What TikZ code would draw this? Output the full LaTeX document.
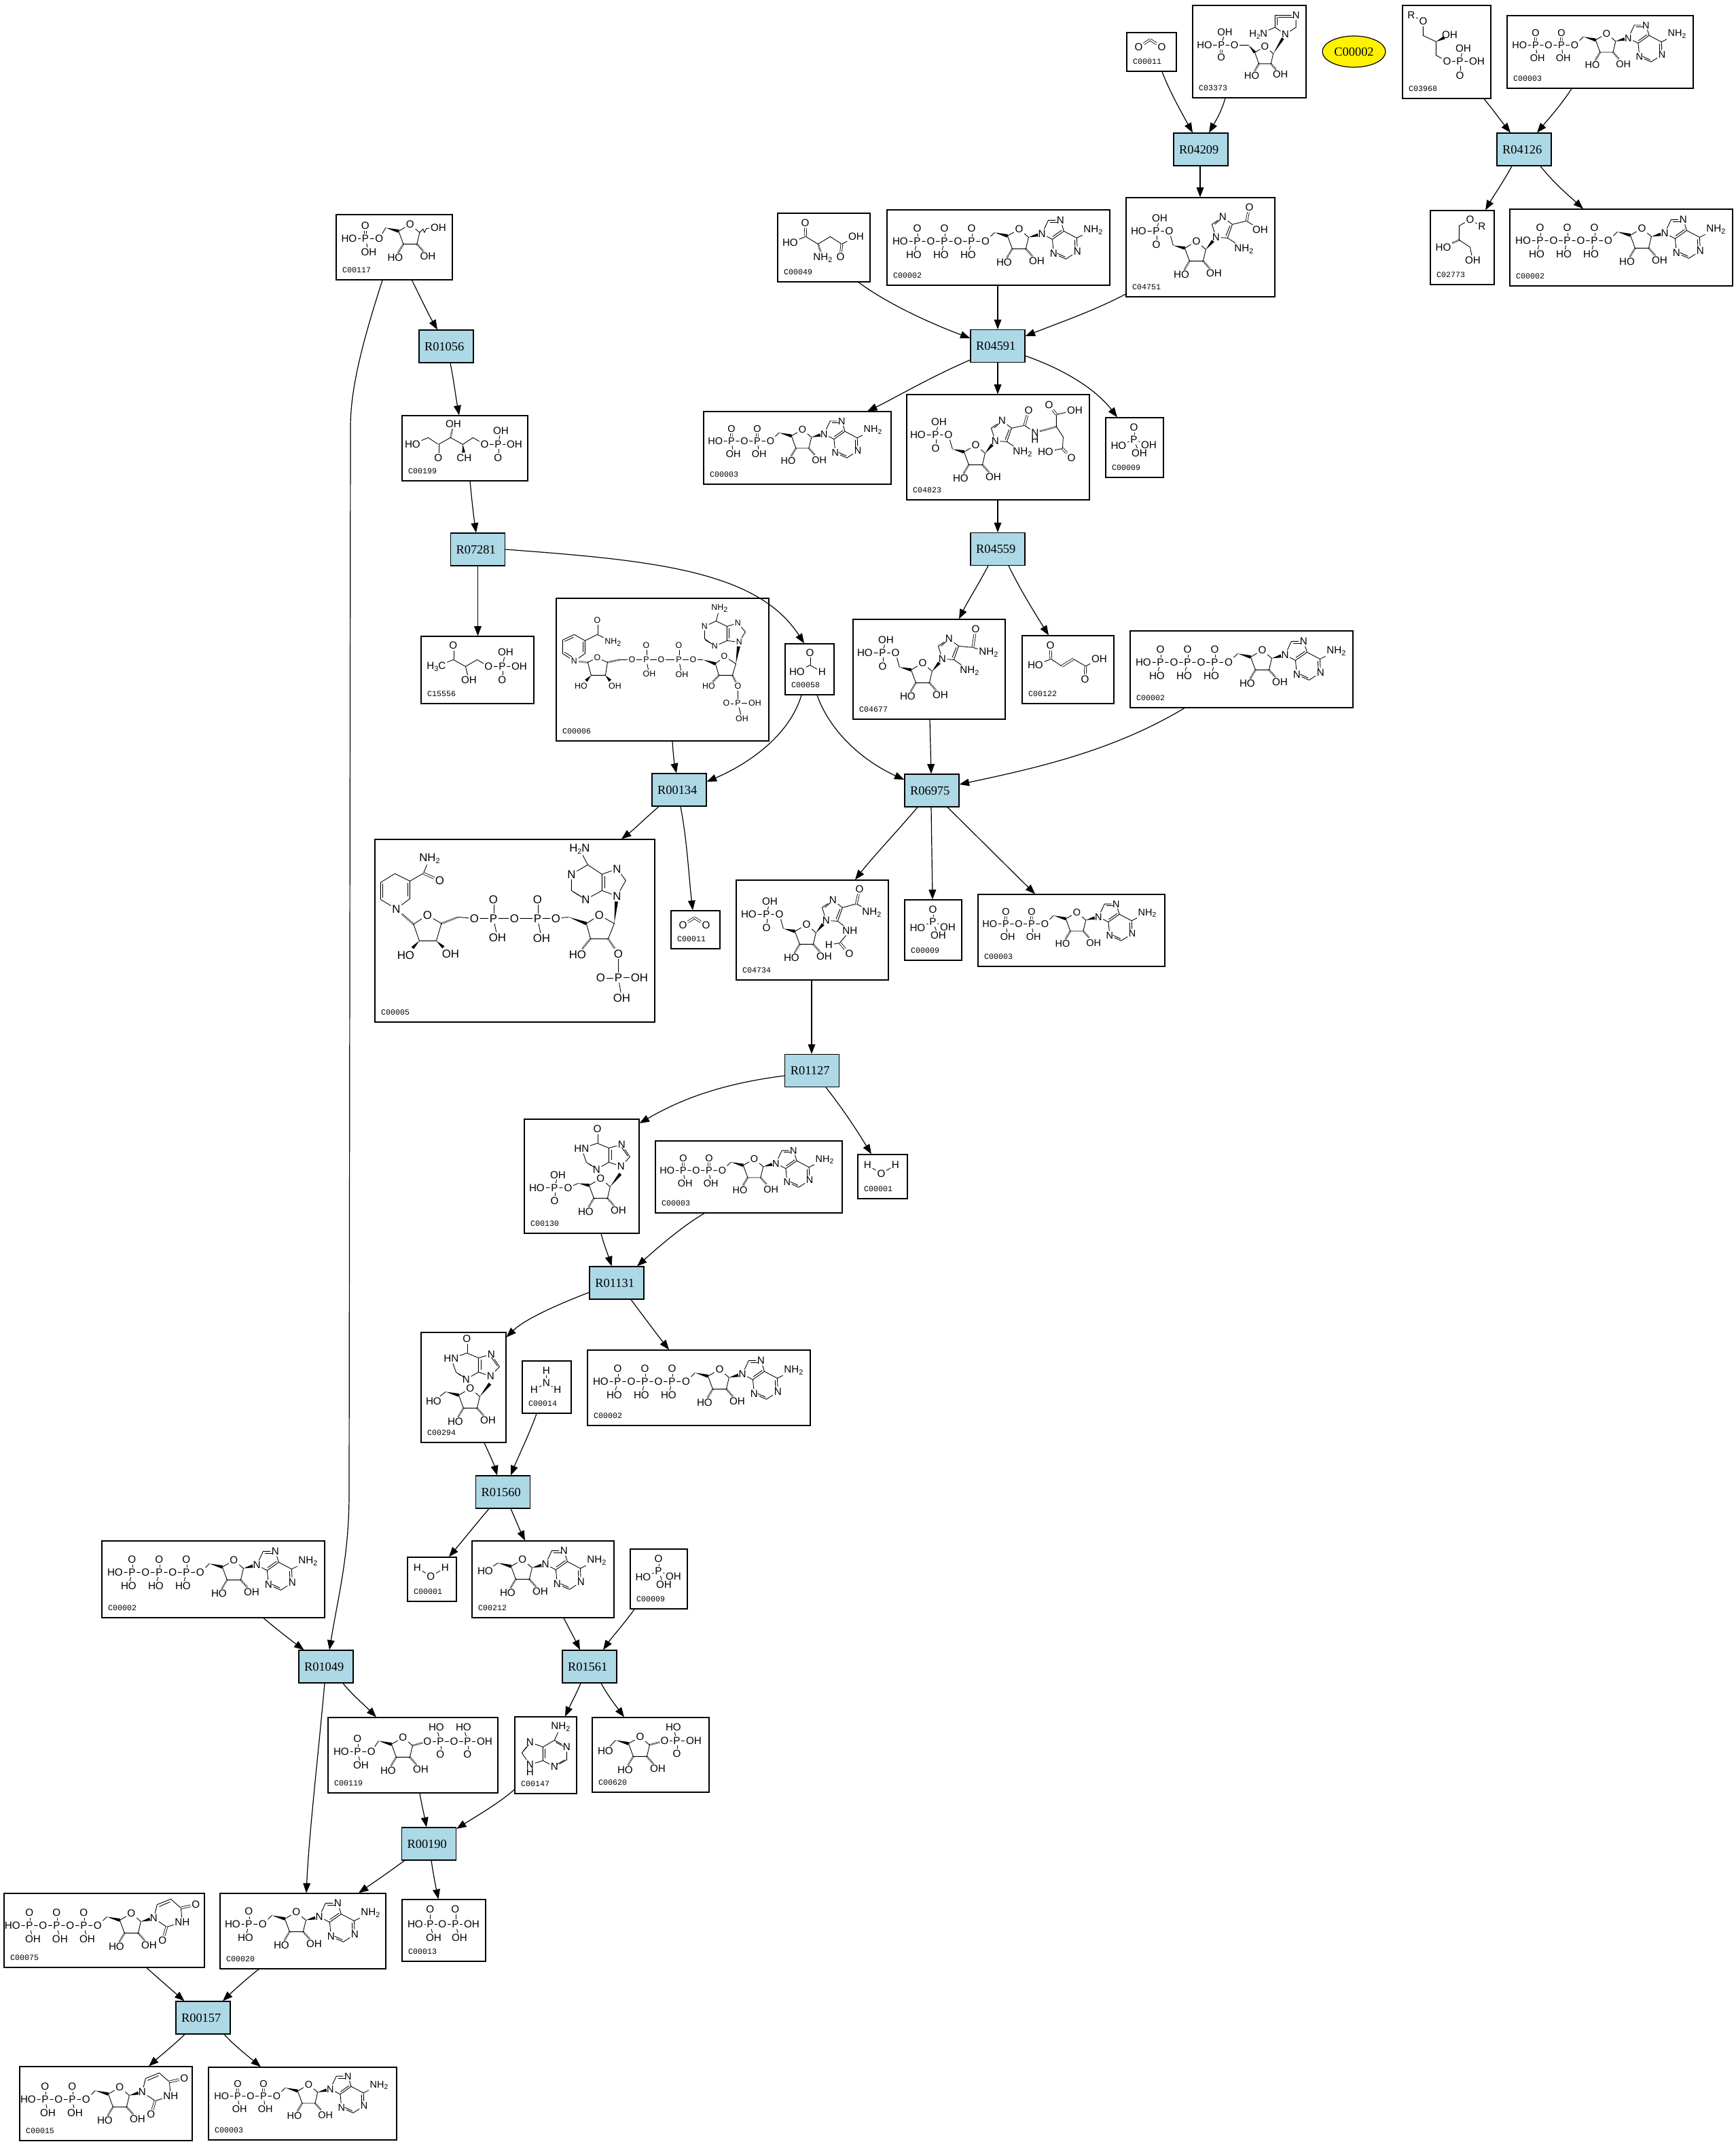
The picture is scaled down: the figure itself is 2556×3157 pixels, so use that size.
\documentclass[tikz,border=0pt]{standalone}
\usepackage{fontspec}
\usetikzlibrary{arrows.meta, calc, shapes.geometric}
\newfontfamily\atomfont{Liberation Sans}
\newfontfamily\idfont{Liberation Mono}
\newfontfamily\rxnfont{Liberation Serif}
\definecolor{rxnblue}{HTML}{ADD8E6}
\def\atomsz{3.8}
\tikzset{
        rxn/.style={draw, fill=rxnblue, line width=0.3pt, minimum width=20pt, minimum height=12pt, inner sep=0pt, font=\fontsize{4.6}{5}\rxnfont, execute at begin node={\hspace*{-1.4pt}}}, % reaction boxes
        cid/.style={anchor=south west, inner sep=0pt, xshift=2.25pt, yshift=2.6pt, font=\fontsize{2.9}{3}\idfont},
        cpd/.style n args={3}{draw, line width=0.3pt, inner sep=0pt, minimum width=#1*0.25pt, minimum height=#2*0.25pt, label={[cid]south west:#3}}, % compound boxes
        conn/.style={line width=0.3pt, -{Triangle[length=3.6pt,width=2.7pt]}}, % connectors
        atomsize/.code={\def\atomsz{#1}},
        atom/.style={inner sep=0.25pt, transform shape, font=\atomfont\fontsize{\atomsz}{\atomsz}\selectfont},
        bond/.style={line width=0.22pt},
        dbond/.style={double, double distance=0.5pt, line width=0.2pt},
        hashb/.style={line width=0.7pt, dash pattern=on 0.2pt off 0.3pt},
        }
\newcommand{\Two}{\raisebox{-0.7pt}{\fontsize{2.7}{3}\selectfont 2}}
\newcommand{\Three}{\raisebox{-0.7pt}{\fontsize{2.7}{3}\selectfont 3}}
% one molecule: box, offset from its corner, options, drawing
\newcommand{\mol}[4]{\begin{scope}[shift={(#1.north west)},shift={(#2)},name prefix=#1-,every node/.style={atom},#3]#4\end{scope}}
% filled wedge, narrow at #1, wide towards #2
\newcommand{\wdg}[3]{\coordinate (w) at ($(#1)!#3!(#2)$); \fill (#1) -- ($(w)!0.6pt!90:(#1)$) -- ($(w)!0.6pt!-90:(#1)$) -- cycle;}
% sugar ring, the ring oxygen is the local origin
\newcommand{\ribose}{
        \node (o) at (0,0) {O};
        \coordinate (ca) at (-17,10);
        \coordinate (cb) at (14,12);
        \coordinate (cc) at (10,29);
        \coordinate (cd) at (-10,29);
        \draw[bond] (o) -- (ca) -- (cd) -- (cc) -- (cb) -- (o);
        \node (hoa) at (-22,49) {HO};
        \node (ohb) at (26,47) {OH};
        \draw[hashb] (cd) -- (hoa);
        \draw[hashb] (cc) -- (ohb);
}
\newcommand{\ribtail}{\coordinate (ce) at (-36,5); \wdg{ce}{ca}{1}}
% phosphate: name, x, text below, x offset of it
\newcommand{\phos}[4]{
        \node (#1) at (#2,18) {P};
        \node (#1t) at (#2,-1) {O};
        \node (#1b) at ({#2+#4},38) {#3};
        \draw[dbond] (#1) -- (#1t);
        \draw[bond] (#1) -- (#1b);
}
\newcommand{\tailtri}[2]{
        \foreach \i/\x in {a/-70,b/-110,c/-150} {\phos{p\i}{\x}{#1}{#2}}
        \node (oc) at (-49.5,18) {O};
        \node (oab) at (-90,18) {O};
        \node (obc) at (-130,18) {O};
        \node (hoe) at (-175,18) {HO};
        \draw[bond] (ce) -- (oc) -- (pa) -- (oab) -- (pb) -- (obc) -- (pc) -- (hoe);
}
\newcommand{\taildi}[2]{
        \foreach \i/\x in {a/-70,b/-110} {\phos{p\i}{\x}{#1}{#2}}
        \node (oc) at (-49.5,18) {O};
        \node (oab) at (-90,18) {O};
        \node (hoe) at (-135,18) {HO};
        \draw[bond] (ce) -- (oc) -- (pa) -- (oab) -- (pb) -- (hoe);
}
\newcommand{\tailmono}[2]{
        \phos{pa}{-70}{#1}{#2}
        \node (oc) at (-49.5,18) {O};
        \node (hoe) at (-94,18) {HO};
        \draw[bond] (ce) -- (oc) -- (pa) -- (hoe);
}
\newcommand{\adenine}{
        \node (nn) at (33.6,7) {N};
        \wdg{cb}{nn}{.7}
        \coordinate (b8) at (43,-13);
        \node (n7) at (61,-13) {N};
        \coordinate (b5) at (66,3);
        \coordinate (b4) at (49,15);
        \coordinate (b6) at (85,13);
        \node (n1) at (86,33) {N};
        \coordinate (b2) at (69,44);
        \node (n3) at (51,36) {N};
        \node (nh) at (109,1) {NH\Two};
        \draw[bond] (nn) -- (b8) -- (n7) -- (b5) -- (b4) -- (nn);
        \draw[bond] (b5) -- (b6) -- (n1) -- (b2) -- (n3) -- (b4);
        \draw[bond] (b6) -- (nh);
        \draw[bond] (46,-10) -- (57,-10);
        \draw[bond] (63,1.5) -- (49.5,11);
        \draw[bond] (82,16) -- (82.5,29);
        \draw[bond] (68,41) -- (56,35.5);
}
\newcommand{\uracil}{
        \node (nn) at (33,7) {N};
        \wdg{cb}{nn}{.7}
        \coordinate (b6) at (38,-13);
        \coordinate (b5) at (58,-21);
        \coordinate (b4) at (73,-8);
        \node (o4) at (95,-13) {O};
        \node (n3) at (75,13) {NH};
        \coordinate (b2) at (52,20);
        \node (o2) at (46,40) {O};
        \draw[bond] (nn) -- (b6) -- (b5) -- (b4) -- (n3) -- (b2) -- (nn);
        \draw[dbond] (b4) -- (o4);
        \draw[dbond] (b2) -- (o2);
        \draw[bond] (41,-10) -- (57,-17);
}
\newcommand{\atpmol}{\ribose\ribtail\tailtri{HO}{-5}\adenine}
\newcommand{\adpmol}{\ribose\ribtail\taildi{OH}{3}\adenine}
% phosphate and ring of the imidazole compounds
\newcommand{\imid}{
        \ribose
        \node (pa) at (-59,-15) {P};
        \node (hoe) at (-85,-15) {HO};
        \node (oc) at (-40,-15) {O};
        \node (ohp) at (-54,-34) {OH};
        \node (opd) at (-59,5) {O};
        \coordinate (ce) at (-34,6);
        \draw[bond] (hoe) -- (pa) -- (oc) -- (ce);
        \draw[bond] (pa) -- (ohp);
        \draw[dbond] (pa) -- (opd);
        \wdg{ce}{ca}{1}
        \node (nn) at (29,-6) {N};
        \wdg{cb}{nn}{.7}
        \coordinate (m5) at (46,-5);
        \coordinate (m4) at (53,-25);
        \node (n3) at (39,-36) {N};
        \coordinate (m2) at (23,-25);
        \draw[bond] (nn) -- (m5) -- (m4) -- (n3) -- (m2) -- (nn);
        \draw[bond] (43.5,-8) -- (49.5,-23);
        \draw[bond] (27,-25) -- (35,-32);
}
\newcommand{\hypox}{
        \node (nn) at (30,-18) {N};
        \coordinate (wd) at (29,-7);
        \wdg{cb}{wd}{1}
        \coordinate (b8) at (43,-32);
        \node (n7) at (31,-50) {N};
        \coordinate (b5) at (12,-45);
        \coordinate (b4) at (12,-24);
        \coordinate (b6) at (-5,-52);
        \node (o6) at (-5,-73) {O};
        \node (n1) at (-28,-44) {HN};
        \coordinate (b2) at (-21,-24);
        \node (n3) at (-6,-13.5) {N};
        \draw[bond] (nn) -- (b8) -- (n7) -- (b5) -- (b4) -- (nn);
        \draw[bond] (b5) -- (b6) -- (n1) -- (b2) -- (n3) -- (b4);
        \draw[dbond] (b6) -- (o6);
        \draw[bond] (16,-42) -- (16,-27);
        \draw[bond] (40,-33) -- (31,-46);
        \draw[bond] (-18,-22) -- (-10,-17);
}
\newcommand{\pimol}{
        \node (pa) at (42,33) {P};
        \node (ot) at (42,15) {O};
        \node (hl) at (19.5,42) {HO};
        \node (hr) at (64,41) {OH};
        \node (hb) at (50,53) {OH};
        \draw[dbond] (pa) -- (ot);
        \draw[bond] (pa) -- (hl);
        \draw[bond] (pa) -- (hr);
        \draw[bond] (pa) -- (hb);
}
\newcommand{\cotwo}{
        \node (oa) at (18,22) {O};
        \coordinate (cc) at (35,11);
        \node (ob) at (52,22) {O};
        \draw[dbond] (oa) -- (cc);
        \draw[dbond] (cc) -- (ob);
}
\newcommand{\water}{
        \node (ha) at (15,16) {H};
        \node (oa) at (35,29) {O};
        \node (hb) at (56,16) {H};
        \draw[bond] (ha) -- (oa) -- (hb);
}
\begin{document}
\begin{tikzpicture}[x=0.25pt, y=-0.25pt]
        \useasboundingbox (0,0) rectangle (2556,3157);
        % reactions
        \node[rxn] (r04209) at (1768,220) {R04209};
        \node[rxn] (r04126) at (2244,220) {R04126};
        \node[rxn] (r04591) at (1469,509.5) {R04591};
        \node[rxn] (r01056) at (657,510) {R01056};
        \node[rxn] (r07281) at (703.5,809) {R07281};
        \node[rxn] (r04559) at (1469,808.5) {R04559};
        \node[rxn] (r06975) at (1372,1164) {R06975};
        \node[rxn] (r00134) at (1000,1163) {R00134};
        \node[rxn] (r01127) at (1195.5,1576.5) {R01127};
        \node[rxn] (r01131) at (908,1889) {R01131};
        \node[rxn] (r01560) at (740.5,2197) {R01560};
        \node[rxn] (r01049) at (480,2454) {R01049};
        \node[rxn] (r01561) at (868,2454) {R01561};
        \node[rxn] (r00190) at (631.5,2715) {R00190};
        \node[rxn] (r00157) at (299,2971) {R00157};
        \node[draw, ellipse, fill=yellow, line width=0.3pt, inner sep=0pt, minimum width=23.25pt, minimum height=11.5pt, font=\fontsize{4.6}{5}\rxnfont] (c00002) at (1993.5,76) {C00002};
        % compounds
        \node[cpd={73}{57}{C00011}] (c00011a) at (1695.5,76.5) {};
        \node[cpd={167}{136}{C03373}] (c03373) at (1839.5,76) {};
        \node[cpd={130}{137}{C03968}] (c03968) at (2130,76.5) {};
        \node[cpd={274}{107}{C00003}] (c00003a) at (2356,76.5) {};
        \node[cpd={219}{146}{C04751}] (c04751) at (1767.5,364) {};
        \node[cpd={94}{109}{C02773}] (c02773) at (2153,364.5) {};
        \node[cpd={328}{113}{C00002}] (c00002a) at (2387,364.5) {};
        \node[cpd={136}{101}{C00049}] (c00049) at (1213,364.5) {};
        \node[cpd={328}{111}{C00002}] (c00002b) at (1470,364.5) {};
        \node[cpd={171}{96}{C00117}] (c00117) at (580.5,364) {};
        \node[cpd={276}{107}{C00003}] (c00003b) at (1174,659.5) {};
        \node[cpd={269}{155}{C04823}] (c04823) at (1469.5,658.5) {};
        \node[cpd={85}{88}{C00009}] (c00009a) at (1670.5,659) {};
        \node[cpd={185}{96}{C00199}] (c00199) at (684.5,660) {};
        \node[cpd={166}{99}{C15556}] (c15556) at (703,986.5) {};
        \node[cpd={313}{210}{C00006}] (c00006) at (975.5,986) {};
        \node[cpd={72}{75}{C00058}] (c00058) at (1192,985.5) {};
        \node[cpd={224}{147}{C04677}] (c04677) at (1368,985.5) {};
        \node[cpd={135}{100}{C00122}] (c00122) at (1572.5,986) {};
        \node[cpd={328}{113}{C00002}] (c00002c) at (1828,985.5) {};
        \node[cpd={412}{269}{C00005}] (c00005) at (758,1370.5) {};
        \node[cpd={72}{56}{C00011}] (c00011b) at (1024,1369) {};
        \node[cpd={224}{147}{C04734}] (c04734) at (1196,1369.5) {};
        \node[cpd={84}{89}{C00009}] (c00009b) at (1374,1369.5) {};
        \node[cpd={275}{106}{C00003}] (c00003c) at (1577.5,1370) {};
        \node[cpd={169}{168}{C00130}] (c00130) at (856.5,1732) {};
        \node[cpd={275}{106}{C00003}] (c00003d) at (1102.5,1733) {};
        \node[cpd={73}{65}{C00001}] (c00001a) at (1299.5,1732.5) {};
        \node[cpd={125}{162}{C00294}] (c00294) at (682.5,2043) {};
        \node[cpd={72}{77}{C00014}] (c00014) at (805,2042.5) {};
        \node[cpd={328}{111}{C00002}] (c00002d) at (1029,2043.5) {};
        \node[cpd={328}{113}{C00002}] (c00002e) at (314,2325.5) {};
        \node[cpd={72}{65}{C00001}] (c00001b) at (636,2325.5) {};
        \node[cpd={209}{113}{C00212}] (c00212) at (799.5,2325.5) {};
        \node[cpd={84}{88}{C00009}] (c00009c) at (970,2325) {};
        \node[cpd={250}{111}{C00119}] (c00119) at (608,2584.5) {};
        \node[cpd={91}{113}{C00147}] (c00147) at (803.5,2584.5) {};
        \node[cpd={172}{110}{C00620}] (c00620) at (958,2584) {};
        \node[cpd={295}{109}{C00075}] (c00075) at (153.5,2842.5) {};
        \node[cpd={244}{111}{C00020}] (c00020) at (446,2843.5) {};
        \node[cpd={123}{91}{C00013}] (c00013) at (653.5,2842.5) {};
        \node[cpd={254}{109}{C00015}] (c00015) at (156,3097.5) {};
        \node[cpd={277}{107}{C00003}] (c00003e) at (445.5,3097.5) {};
        % connectors
        \draw[conn] (c00011a.south -| 1711,0) .. controls (1722,135) and (1742,170) .. (r04209.north -| 1756,0);
        \draw[conn] (c03373.south -| 1804,0) .. controls (1798,165) and (1790,178) .. (r04209.north -| 1780,0);
        \draw[conn] (r04209.south -| 1767,0) -- (c04751.north -| 1767,0);
        \draw[conn] (c03968.south -| 2185,0) .. controls (2197,160) and (2210,178) .. (r04126.north -| 2224,0);
        \draw[conn] (c00003a.south -| 2314,0) .. controls (2298,155) and (2280,175) .. (r04126.north -| 2263,0);
        \draw[conn] (r04126.south -| 2226,0) .. controls (2212,270) and (2198,290) .. (c02773.north -| 2187,0);
        \draw[conn] (r04126.south -| 2268,0) .. controls (2288,270) and (2312,290) .. (c00002a.north -| 2331,0);
        \draw[conn] (c00049.south -| 1264,0) .. controls (1310,450) and (1380,480) .. (r04591.west |- 0,498);
        \draw[conn] (c00002b.south -| 1469,0) -- (r04591.north -| 1469,0);
        \draw[conn] (c04751.west |- 0,433) .. controls (1610,458) and (1560,475) .. (r04591.east |- 0,495);
        \draw[conn] (r04591.west |- 0,530) .. controls (1370,555) and (1310,590) .. (c00003b.north -| 1277,0);
        \draw[conn] (r04591.south -| 1469,0) -- (c04823.north -| 1469,0);
        \draw[conn] (r04591.east |- 0,524) .. controls (1570,545) and (1615,575) .. (c00009a.north -| 1645,0);
        \draw[conn] (c04823.south -| 1469,0) -- (r04559.north -| 1469,0);
        \draw[conn] (r04559.south -| 1455,0) .. controls (1438,865) and (1425,885) .. (c04677.north -| 1412,0);
        \draw[conn] (r04559.south -| 1485,0) .. controls (1503,870) and (1525,905) .. (c00122.north -| 1544,0);
        \draw[conn] (c00117.south -| 606.5,0) .. controls (620,440) and (632,465) .. (r01056.north -| 644,0);
        \draw[conn] (r01056.south -| 663,0) .. controls (668,560) and (672,590) .. (c00199.north -| 676,0);
        \draw[conn] (c00199.south -| 692,0) .. controls (695,740) and (698,765) .. (r07281.north -| 701,0);
        \draw[conn] (r07281.south -| 703.5,0) -- (c15556.north -| 703.5,0);
        \draw[conn] (r07281.east |- 0,809) .. controls (960,825) and (1115,840) .. (c00058.north -| 1184,0);
        \draw[conn] (c00117.south -| 563,0) .. controls (535,500) and (516,570) .. (516,629) -- (514,2200) .. controls (514,2290) and (498,2350) .. (r01049.north -| 485,0);
        \draw[conn] (c00006.south -| 990,0) .. controls (991,1110) and (993,1125) .. (r00134.north -| 996,0);
        \draw[conn] (c00058.south -| 1180,0) .. controls (1160,1090) and (1090,1130) .. (r00134.east |- 0,1151);
        \draw[conn] (c00058.south -| 1203,0) .. controls (1225,1085) and (1280,1125) .. (r06975.west |- 0,1148);
        \draw[conn] (c04677.south -| 1369,0) -- (r06975.north -| 1371,0);
        \draw[conn] (c00002c.south -| 1744,0) .. controls (1640,1105) and (1530,1130) .. (r06975.east |- 0,1155);
        \draw[conn] (r00134.south -| 970,0) .. controls (950,1205) and (935,1220) .. (c00005.north -| 915,0);
        \draw[conn] (r00134.south -| 1002,0) .. controls (1012,1240) and (1014,1290) .. (c00011b.north -| 1020,0);
        \draw[conn] (r06975.south -| 1351,0) .. controls (1320,1225) and (1285,1262) .. (c04734.north -| 1259,0);
        \draw[conn] (r06975.south -| 1371,0) -- (c00009b.north -| 1373,0);
        \draw[conn] (r06975.south -| 1395,0) .. controls (1435,1228) and (1485,1278) .. (c00003c.north -| 1524,0);
        \draw[conn] (c04734.south -| 1195,0) -- (r01127.north -| 1195,0);
        \draw[conn] (r01127.west |- 0,1584) .. controls (1060,1596) and (1000,1620) .. (c00130.east |- 0,1654);
        \draw[conn] (r01127.south -| 1216,0) .. controls (1245,1638) and (1265,1670) .. (c00001a.north -| 1283,0);
        \draw[conn] (c00130.south -| 885,0) .. controls (890,1835) and (896,1850) .. (r01131.north -| 900.5,0);
        \draw[conn] (c00003d.south -| 1037,0) .. controls (1005,1805) and (965,1840) .. (r01131.north -| 938,0);
        \draw[conn] (r01131.west |- 0,1903) .. controls (810,1925) and (770,1945) .. (c00294.east |- 0,1969);
        \draw[conn] (r01131.south -| 929,0) .. controls (945,1935) and (965,1962) .. (c00002d.north -| 985,0);
        \draw[conn] (c00294.south -| 713,0) .. controls (720,2140) and (727,2155) .. (r01560.north -| 732,0);
        \draw[conn] (c00014.south -| 790,0) .. controls (780,2110) and (763,2145) .. (r01560.north -| 752,0);
        \draw[conn] (r01560.south -| 720,0) .. controls (700,2245) and (680,2270) .. (c00001b.north -| 661,0);
        \draw[conn] (r01560.south -| 752,0) .. controls (758,2235) and (765,2252) .. (c00212.north -| 773,0);
        \draw[conn] (c00212.south -| 830,0) .. controls (838,2398) and (847,2415) .. (r01561.north -| 854,0);
        \draw[conn] (c00009c.south -| 934,0) .. controls (918,2392) and (900,2412) .. (r01561.north -| 888,0);
        \draw[conn] (r01561.south -| 855,0) .. controls (848,2495) and (840,2510) .. (c00147.north -| 832,0);
        \draw[conn] (r01561.south -| 885,0) .. controls (895,2497) and (907,2512) .. (c00620.north -| 919,0);
        \draw[conn] (c00002e.south -| 388,0) .. controls (405,2397) and (428,2415) .. (r01049.north -| 447.5,0);
        \draw[conn] (r01049.south -| 478,0) .. controls (468,2590) and (455,2700) .. (c00020.north -| 451,0);
        \draw[conn] (r01049.south -| 505,0) .. controls (518,2495) and (538,2512) .. (c00119.north -| 554,0);
        \draw[conn] (c00119.south -| 618,0) .. controls (621,2658) and (625,2675) .. (r00190.north -| 628,0);
        \draw[conn] (c00147.west |- 0,2635) .. controls (735,2655) and (700,2675) .. (r00190.east |- 0,2693);
        \draw[conn] (r00190.south -| 595.5,0) .. controls (572,2757) and (550,2772) .. (c00020.north -| 528,0);
        \draw[conn] (r00190.south -| 635,0) .. controls (638,2760) and (642,2780) .. (c00013.north -| 645.5,0);
        \draw[conn] (c00075.south -| 216,0) .. controls (232,2912) and (255,2932) .. (r00157.north -| 271.5,0);
        \draw[conn] (c00020.south -| 381,0) .. controls (365,2912) and (345,2930) .. (r00157.north -| 328,0);
        \draw[conn] (r00157.south -| 272,0) .. controls (255,3012) and (235,3028) .. (c00015.north -| 219,0);
        \draw[conn] (r00157.south -| 330,0) .. controls (345,3012) and (368,3030) .. (c00003e.north -| 384,0);
        % molecules
        \mol{c00002a}{195,29}{}{\atpmol}
        \mol{c00002b}{195,29}{}{\atpmol}
        \mol{c00002c}{195,29}{}{\atpmol}
        \mol{c00002d}{195,29}{}{\atpmol}
        \mol{c00002e}{195,29}{}{\atpmol}
        \mol{c00003a}{147,27}{scale=.95}{\adpmol}
        \mol{c00003b}{146,27}{scale=.95}{\adpmol}
        \mol{c00003c}{146,27}{scale=.95}{\adpmol}
        \mol{c00003d}{146,27}{scale=.95}{\adpmol}
        \mol{c00003e}{148,26}{scale=.95}{\adpmol}
        \mol{c00020}{113,28}{}{\ribose\ribtail\tailmono{HO}{-5}\adenine}
        \mol{c00075}{188,30}{}{\ribose\ribtail\tailtri{OH}{5}\uracil}
        \mol{c00015}{148,31}{}{\ribose\ribtail\taildi{OH}{4}\uracil}
        \mol{c00212}{75,28}{}{\ribose\ribtail\adenine
                \node (hoc) at (-55,17) {HO};
                \draw[bond] (ce) -- (hoc);}
        \mol{c00009a}{0,0}{}{\pimol}
        \mol{c00009b}{0,0}{}{\pimol}
        \mol{c00009c}{0,0}{}{\pimol}
        \mol{c00011a}{0,0}{}{\cotwo}
        \mol{c00011b}{0,0}{}{\cotwo}
        \mol{c00001a}{0,0}{}{\water}
        \mol{c00001b}{0,0}{}{\water}
        \mol{c03373}{107,61}{scale=.88, atomsize=4.2}{\ribose
                \node (pa) at (-73,-2) {P};
                \node (hoe) at (-101,-2) {HO};
                \node (oc) at (-51,-2) {O};
                \node (ohp) at (-67,-24) {OH};
                \node (opd) at (-73,18) {O};
                \coordinate (ce) at (-27,-2);
                \draw[bond] (hoe) -- (pa) -- (oc) -- (ce);
                \draw[bond] (pa) -- (ohp);
                \draw[dbond] (pa) -- (opd);
                \wdg{ce}{ca}{1}
                \node (nn) at (34,-20) {N};
                \wdg{cb}{nn}{.8}
                \node (nh) at (-11,-20) {H\Two N};
                \coordinate (m5) at (17,-32);
                \coordinate (m4) at (17,-52);
                \node (n3) at (52,-52) {N};
                \coordinate (m2) at (52,-32);
                \draw[bond] (nn) -- (m5) -- (m4) -- (n3) -- (m2) -- (nn);
                \draw[bond] (m5) -- (nh);
                \draw[bond] (21,-36) -- (21,-49);
                \draw[bond] (22,-49) -- (48,-49);}
        \mol{c04751}{104,65}{}{\imid
                \coordinate (cx) at (74,-30);
                \node (ox) at (78,-50) {O};
                \node (hx) at (94,-17) {OH};
                \node (nh) at (70,11) {NH\Two};
                \draw[bond] (m4) -- (cx) -- (hx);
                \draw[dbond] (cx) -- (ox);
                \draw[bond] (m5) -- (nh);}
        \mol{c04677}{103,65}{}{\imid
                \coordinate (cx) at (74,-23);
                \node (ox) at (78,-50) {O};
                \node (hx) at (97,-16) {NH\Two};
                \node (nh) at (69,11) {NH\Two};
                \draw[bond] (m4) -- (cx) -- (hx);
                \draw[dbond] (cx) -- (ox);
                \draw[bond] (m5) -- (nh);}
        \mol{c04823}{102,75}{}{\imid
                \coordinate (cx) at (72,-29);
                \node (ox) at (78,-51) {O};
                \node (nx) at (87.5,-18.5) {N};
                \node (hx) at (87.5,-8) {H};
                \coordinate (ca2) at (119,-27);
                \coordinate (cb2) at (119,-45);
                \node (oa2) at (108,-59) {O};
                \node (ob2) at (146,-51) {OH};
                \coordinate (cc2) at (129,-12);
                \coordinate (cd2) at (128,5);
                \node (oc2) at (141,19) {O};
                \node (od2) at (103,10) {HO};
                \node (nh) at (69,10) {NH\Two};
                \draw[bond] (m4) -- (cx) -- (nx);
                \draw[dbond] (cx) -- (ox);
                \draw[hashb] (nx) -- (ca2);
                \draw[bond] (ca2) -- (cb2) -- (ob2);
                \draw[dbond] (cb2) -- (oa2);
                \draw[bond] (ca2) -- (cc2) -- (cd2) -- (od2);
                \draw[dbond] (cd2) -- (oc2);
                \draw[bond] (m5) -- (nh);}
        \mol{c04734}{104,66}{}{\imid
                \coordinate (cx) at (73.5,-30.6);
                \node (ox) at (78,-52) {O};
                \node (hx) at (96,-18) {NH\Two};
                \node (nh) at (64,9) {NH};
                \coordinate (cf) at (49,27);
                \node (hf) at (33,30) {H};
                \node (of) at (63,43) {O};
                \draw[bond] (m4) -- (cx) -- (hx);
                \draw[dbond] (cx) -- (ox);
                \draw[bond] (m5) -- (nh) -- (cf) -- (hf);
                \draw[dbond] (cf) -- (of);}
        \mol{c00130}{113,88}{}{\ribose\hypox
                \node (pa) at (-68,13.5) {P};
                \node (hoe) at (-94,13.5) {HO};
                \node (oc) at (-48,13.5) {O};
                \node (ohp) at (-63,-5.5) {OH};
                \node (opd) at (-68,33) {O};
                \coordinate (ce) at (-33,7);
                \draw[bond] (hoe) -- (pa) -- (oc) -- (ce);
                \draw[bond] (pa) -- (ohp);
                \draw[dbond] (pa) -- (opd);
                \wdg{ce}{ca}{1}}
        \mol{c00294}{73,83}{}{\ribose\hypox\ribtail
                \node (hoc) at (-54,18.5) {HO};
                \draw[bond] (ce) -- (hoc);}
        \mol{c00117}{109.5,15}{}{\ribose\ribtail
                \begin{scope}[shift={(4,3)}]\tailmono{OH}{5}\end{scope}
                \node (ohr) at (41.5,4.5) {OH};
                \draw[bond] (cb) -- (19,7) -- (21,12) -- (24,6) -- (ohr);}
        \mol{c00119}{111,30}{}{\ribose\ribtail
                \begin{scope}[shift={(3,3)}]\tailmono{OH}{5}\end{scope}
                \node (oa) at (36,5.6) {O};
                \node (pb) at (55,5.6) {P};
                \node (hb) at (49,-15) {HO};
                \node (ob) at (55,25) {O};
                \node (oe) at (75,5.6) {O};
                \node (pc) at (95,5.6) {P};
                \node (hc) at (89,-15) {HO};
                \node (oh) at (95,25) {O};
                \node (he) at (120,5.6) {OH};
                \draw[hashb] (cb) -- (oa);
                \draw[bond] (oa) -- (pb) -- (oe) -- (pc) -- (he);
                \draw[bond] (pb) -- (hb);
                \draw[bond] (pc) -- (hc);
                \draw[dbond] (pb) -- (ob);
                \draw[dbond] (pc) -- (oh);}
        \mol{c00620}{71,29}{}{\ribose\ribtail
                \node (hoc) at (-51,21) {HO};
                \draw[bond] (ce) -- (hoc);
                \node (oa) at (36,5.7) {O};
                \node (pb) at (54,5.7) {P};
                \node (hb) at (49,-14) {HO};
                \node (he) at (79,5.7) {OH};
                \node (ob) at (54,25) {O};
                \draw[hashb] (cb) -- (oa);
                \draw[bond] (oa) -- (pb) -- (he);
                \draw[bond] (pb) -- (hb);
                \draw[dbond] (pb) -- (ob);}
        \mol{c00199}{0,0}{}{
                \node (ha) at (16,43) {HO};
                \coordinate (ca) at (39,33);
                \coordinate (cb) at (54,43);
                \node (oa) at (54,63) {O};
                \coordinate (cc) at (72,33);
                \node (hc) at (76,13) {OH};
                \coordinate (cd) at (90,43);
                \node (hd) at (92,63) {CH};
                \coordinate (ce) at (105,33);
                \node (ob) at (122,43) {O};
                \node (pa) at (142,43) {P};
                \node (hb) at (146,23) {OH};
                \node (he) at (166,43) {OH};
                \node (oc) at (142,63) {O};
                \draw[bond] (ha) -- (ca) -- (cb) -- (cc) -- (cd) -- (ce) -- (ob) -- (pa) -- (he);
                \draw[dbond] (cb) -- (oa);
                \draw[hashb] (cc) -- (hc);
                \wdg{cd}{hd}{.6}
                \draw[bond] (pa) -- (hb);
                \draw[dbond] (pa) -- (oc);}
        \mol{c15556}{0,0}{}{
                \node (ha) at (23,45) {H\Three C};
                \coordinate (ca) at (48,35);
                \node (oa) at (48,14) {O};
                \coordinate (cb) at (66,45);
                \node (hb) at (71,65) {OH};
                \coordinate (cc) at (83,35);
                \node (ob) at (100,45) {O};
                \node (pa) at (120,45) {P};
                \node (hc) at (125,24) {OH};
                \node (he) at (145,45) {OH};
                \node (oc) at (120,65) {O};
                \draw[bond] (ha) -- (ca) -- (cb) -- (cc) -- (ob) -- (pa) -- (he);
                \draw[dbond] (ca) -- (oa);
                \draw[bond] (cb) -- (hb);
                \draw[bond] (pa) -- (hc);
                \draw[dbond] (pa) -- (oc);}
        \mol{c00049}{0,0}{}{
                \node (ha) at (19,44) {HO};
                \coordinate (ca) at (42,35);
                \node (oa) at (41,15) {O};
                \coordinate (cb) at (60,46);
                \node (nh) at (67,66) {NH\Two};
                \coordinate (cc) at (78,35);
                \coordinate (cd) at (95,46);
                \node (ob) at (93,65) {O};
                \node (hb) at (116,35) {OH};
                \draw[bond] (ha) -- (ca) -- (cb) -- (cc) -- (cd) -- (hb);
                \draw[dbond] (ca) -- (oa);
                \draw[dbond] (cd) -- (ob);
                \draw[hashb] (cb) -- (nh);}
        \mol{c00122}{0,0}{}{
                \node (ha) at (20,44) {HO};
                \coordinate (ca) at (43,35);
                \node (oa) at (42,15) {O};
                \coordinate (cb) at (59,45.5);
                \coordinate (cc) at (76,35);
                \coordinate (cd) at (94,45.5);
                \node (hb) at (114,35) {OH};
                \node (ob) at (93,64.5) {O};
                \draw[bond] (ha) -- (ca) -- (cb);
                \draw[dbond] (cb) -- (cc);
                \draw[bond] (cc) -- (cd) -- (hb);
                \draw[dbond] (ca) -- (oa);
                \draw[dbond] (cd) -- (ob);}
        \mol{c00058}{0,0}{}{
                \node (oa) at (37,13.5) {O};
                \coordinate (ca) at (37,32);
                \node (ha) at (18,42) {HO};
                \node (hb) at (55,42) {H};
                \draw[dbond] (ca) -- (oa);
                \draw[bond] (ha) -- (ca) -- (hb);}
        \mol{c00014}{0,0}{}{
                \node (ha) at (36,15) {H};
                \node (nn) at (36,33) {N};
                \node (hb) at (18,43) {H};
                \node (hc) at (52.5,43) {H};
                \draw[bond] (ha) -- (nn);
                \draw[bond] (hb) -- (nn) -- (hc);}
        \mol{c03968}{0,0}{}{
                \node (rr) at (13.5,14.6) {R};
                \node (oa) at (31,24) {O};
                \coordinate (ca) at (31,45);
                \coordinate (cb) at (50,54);
                \node (ha) at (70,44) {OH};
                \coordinate (cc) at (50,74);
                \node (ob) at (66,83) {O};
                \node (pa) at (85,83) {P};
                \node (hb) at (90,64) {OH};
                \node (he) at (110,83) {OH};
                \node (oc) at (85,103.5) {O};
                \draw[bond] (rr) -- (oa) -- (ca) -- (cb) -- (cc) -- (ob) -- (pa) -- (he);
                \wdg{cb}{ha}{.6}
                \draw[bond] (pa) -- (hb);
                \draw[dbond] (pa) -- (oc);}
        \mol{c02773}{0,0}{}{
                \node (oa) at (59,14) {O};
                \node (rr) at (76.5,24) {R};
                \coordinate (ca) at (43,23);
                \coordinate (cb) at (43,44);
                \node (ha) at (19.5,54.5) {HO};
                \coordinate (cc) at (59,54.5);
                \node (hb) at (63,74) {OH};
                \draw[bond] (rr) -- (oa) -- (ca) -- (cb) -- (cc) -- (hb);
                \draw[hashb] (cb) -- (ha);}
        \mol{c00013}{0,0}{}{
                \node (oa) at (42,15) {O};
                \node (pa) at (42,37) {P};
                \node (ha) at (20,37) {HO};
                \node (ob) at (60,37) {O};
                \node (pb) at (79,37) {P};
                \node (oc) at (79,15) {O};
                \node (he) at (103,37) {OH};
                \node (hb) at (47,57) {OH};
                \node (hc) at (85,57) {OH};
                \draw[bond] (ha) -- (pa) -- (ob) -- (pb) -- (he);
                \draw[bond] (pa) -- (oa);
                \draw[dbond] (pb) -- (oc);
                \draw[bond] (pa) -- (hb);
                \draw[bond] (pb) -- (hc);}
        \mol{c00147}{0,0}{}{
                \node (nh) at (68,15) {NH\Two};
                \coordinate (b6) at (59,35);
                \node (n1) at (77,45) {N};
                \coordinate (b2) at (77,64);
                \node (n3) at (59,74) {N};
                \coordinate (b4) at (42,65);
                \coordinate (b5) at (42,45);
                \node (n7) at (23,38) {N};
                \coordinate (b8) at (11,54);
                \node (nn) at (23,71) {N};
                \node (hh) at (23,82) {H};
                \draw[bond] (nh) -- (b6) -- (n1) -- (b2) -- (n3) -- (b4) -- (b5) -- (b6);
                \draw[bond] (b5) -- (n7) -- (b8) -- (nn) -- (b4);
                \draw[bond] (45,48) -- (45,62);
                \draw[bond] (61,38) -- (72,44);
                \draw[bond] (74,64) -- (62,71);
                \draw[bond] (13,51) -- (21,42);}
        \mol{c00006}{0,0}{atomsize=3.1}{
                \node (nn) at (27,93) {N};
                \coordinate (a1) at (10,62);
                \coordinate (a2) at (27,54);
                \coordinate (a3) at (43,63);
                \coordinate (a4) at (43,82);
                \coordinate (a5) at (10,82);
                \coordinate (ac) at (61,54);
                \node (ao) at (61,33) {O};
                \node (an) at (84,65) {NH\Two};
                \node (o1) at (61,88) {O};
                \coordinate (r1) at (47,95);
                \coordinate (r2) at (52,114);
                \coordinate (r3) at (73,114);
                \coordinate (r4) at (76,95);
                \coordinate (r5) at (94,91);
                \node (p1o) at (112,91) {O};
                \node (p1) at (133,91) {P};
                \node (p1t) at (133,70) {O};
                \node (p1b) at (137.5,112) {OH};
                \node (p2o) at (155,91) {O};
                \node (p2) at (181,91) {P};
                \node (p2t) at (181,70) {O};
                \node (p2b) at (185.5,113) {OH};
                \node (p3o) at (202,91) {O};
                \coordinate (s5) at (217,91);
                \coordinate (s4) at (235,97);
                \node (o2) at (248,86) {O};
                \coordinate (s1) at (265,97);
                \coordinate (s2) at (260,114);
                \coordinate (s3) at (240,114);
                \node (n9) at (270,65) {N};
                \node (hs) at (225,130) {HO};
                \node (p4o) at (268,130) {O};
                \node (p4) at (268,155) {P};
                \node (p4t) at (251,155) {O};
                \node (p4r) at (293,155) {OH};
                \node (p4b) at (274,178) {OH};
                \node (hr3) at (37,130) {HO};
                \node (hr2) at (87,130) {OH};
                \coordinate (b8) at (279,50);
                \node (n7) at (268,37) {N};
                \coordinate (b5) at (252,42);
                \coordinate (b4) at (252,63);
                \coordinate (b6) at (236,34);
                \node (nh) at (241,15) {NH\Two};
                \node (n1) at (219,42) {N};
                \coordinate (b2) at (219,60);
                \node (n3) at (234,71) {N};
                \draw[bond] (nn) -- (a5) -- (a1) -- (a2) -- (a3) -- (a4) -- (nn);
                \draw[bond] (a3) -- (ac) -- (an);
                \draw[dbond] (ac) -- (ao);
                \draw[bond] (13,64) -- (26,58);
                \draw[bond] (13,80) -- (24,87);
                \draw[bond] (40,65) -- (40,80);
                \draw[bond] (o1) -- (r1) -- (r2) -- (r3) -- (r4) -- (o1);
                \draw[hashb] (r1) -- (nn);
                \draw[hashb] (r4) -- (r5);
                \draw[bond] (r5) -- (p1o) -- (p1) -- (p2o) -- (p2) -- (p3o);
                \draw[dbond] (p1) -- (p1t);
                \draw[dbond] (p2) -- (p2t);
                \draw[bond] (p1) -- (p1b);
                \draw[bond] (p2) -- (p2b);
                \draw[bond] (p3o) -- (s5);
                \wdg{s5}{s4}{1}
                \draw[bond] (o2) -- (s4) -- (s3) -- (s2) -- (s1) -- (o2);
                \wdg{s1}{n9}{.8}
                \draw[hashb] (s3) -- (hs);
                \draw[hashb] (s2) -- (p4o);
                \draw[bond] (p4o) -- (p4) -- (p4r);
                \draw[dbond] (p4) -- (p4t);
                \draw[bond] (p4) -- (p4b);
                \wdg{r2}{hr3}{.5}
                \wdg{r3}{hr2}{.5}
                \draw[bond] (n9) -- (b8) -- (n7) -- (b5) -- (b4) -- (n9);
                \draw[bond] (b5) -- (b6) -- (n1) -- (b2) -- (n3) -- (b4);
                \draw[bond] (b6) -- (nh);
                \draw[bond] (255,45) -- (255,60);
                \draw[bond] (220,62) -- (230,68);}
        \mol{c00005}{0,0}{atomsize=4.2}{
                \node (nn) at (32,103) {N};
                \coordinate (a1) at (9,89);
                \coordinate (a2) at (9,64);
                \coordinate (a3) at (30,51);
                \coordinate (a4) at (52,62);
                \coordinate (a5) at (52,88);
                \coordinate (ac) at (72,50.5);
                \node (ao) at (96,61) {O};
                \node (an) at (81,29) {NH\Two};
                \node (o1) at (78,112) {O};
                \coordinate (r1) at (57.5,125.5);
                \coordinate (r2) at (66,150);
                \coordinate (r3) at (91,150);
                \coordinate (r4) at (98.5,124.5);
                \coordinate (r5) at (123,115);
                \node (p1o) at (147,117) {O};
                \node (p1) at (175,117) {P};
                \node (p1t) at (175,89) {O};
                \node (p1b) at (181,145) {OH};
                \node (p2o) at (206,117) {O};
                \node (p2) at (240,117) {P};
                \node (p2t) at (240,89) {O};
                \node (p2b) at (246,146) {OH};
                \node (p3o) at (267,117) {O};
                \coordinate (s5) at (286,115);
                \coordinate (s4) at (312,124.5);
                \node (o2) at (331,112) {O};
                \coordinate (s1) at (353,124.5);
                \coordinate (s2) at (344,147);
                \coordinate (s3) at (318,147);
                \node (n9) at (357,84) {N};
                \node (hs) at (299,170) {HO};
                \node (p4o) at (359,169) {O};
                \node (p4) at (359,204) {P};
                \node (p4t) at (333,204) {O};
                \node (p4r) at (390,204) {OH};
                \node (p4b) at (364,234) {OH};
                \node (hr3) at (46,171) {HO};
                \node (hr2) at (112,169) {OH};
                \coordinate (b8) at (370,61);
                \node (n7) at (357,44) {N};
                \coordinate (b5) at (335,52);
                \coordinate (b4) at (335,76);
                \coordinate (b6) at (314,38);
                \node (nh) at (302,15) {H\Two N};
                \node (n1) at (290,52) {N};
                \coordinate (b2) at (290,76);
                \node (n3) at (311,89) {N};
                \draw[bond] (nn) -- (a5) -- (a4) -- (a3) -- (a2) -- (a1) -- (nn);
                \draw[bond] (12,66) -- (12,87);
                \draw[bond] (49,65) -- (49,85);
                \draw[bond] (a4) -- (ac) -- (an);
                \draw[dbond] (ac) -- (ao);
                \draw[bond] (o1) -- (r1) -- (r2) -- (r3) -- (r4) -- (o1);
                \draw[hashb] (r1) -- (nn);
                \draw[hashb] (r4) -- (r5);
                \draw[bond] (r5) -- (p1o) -- (p1) -- (p2o) -- (p2) -- (p3o) -- (s5);
                \draw[dbond] (p1) -- (p1t);
                \draw[dbond] (p2) -- (p2t);
                \draw[bond] (p1) -- (p1b);
                \draw[bond] (p2) -- (p2b);
                \wdg{s5}{s4}{1}
                \draw[bond] (o2) -- (s4) -- (s3) -- (s2) -- (s1) -- (o2);
                \wdg{s1}{n9}{.8}
                \draw[hashb] (s3) -- (hs);
                \draw[hashb] (s2) -- (p4o);
                \draw[bond] (p4o) -- (p4) -- (p4r);
                \draw[dbond] (p4) -- (p4t);
                \draw[bond] (p4) -- (p4b);
                \wdg{r2}{hr3}{.5}
                \wdg{r3}{hr2}{.5}
                \draw[bond] (n9) -- (b8) -- (n7) -- (b5) -- (b4) -- (n9);
                \draw[bond] (b5) -- (b6) -- (n1) -- (b2) -- (n3) -- (b4);
                \draw[bond] (b6) -- (nh);
                \draw[bond] (339,55) -- (339,73);
                \draw[bond] (293,78) -- (306,86);}
\end{tikzpicture}
\end{document}
